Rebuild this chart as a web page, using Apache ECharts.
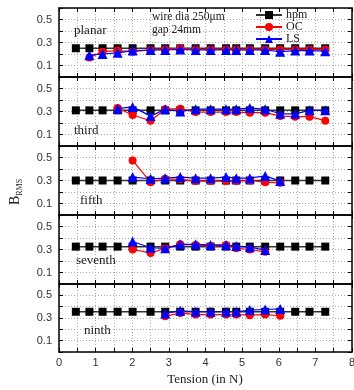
<!DOCTYPE html>
<html>
<head>
<meta charset="utf-8">
<script src="https://cdn.jsdelivr.net/npm/echarts@6/dist/echarts.min.js"></script>
<style>html,body{margin:0;padding:0;background:#fff;}#c{width:354px;height:390px;}</style>
</head>
<body>
<div id="c"></div>
<script>
// ---- data ----
const panelNames = ['planar', 'third', 'fifth', 'seventh', 'ninth'];
const seriesNames = ['hpm', 'OC', 'LS'];
const xTicks = [0, 1, 2, 3, 4, 5, 6, 7, 8];
const yTicks = [0.1, 0.3, 0.5];

const xHpm = [0.46, 0.83, 1.19, 1.6, 2.01, 2.5, 2.9, 3.31, 3.73, 4.14, 4.56, 4.84, 5.21, 5.63, 6.04, 6.45, 6.84, 7.27];

const hpmPlanar  = [0.25, 0.25, 0.25, 0.25, 0.25, 0.25, 0.25, 0.25, 0.25, 0.25, 0.25, 0.25, 0.25, 0.25, 0.25, 0.25, 0.25, 0.25];
const hpmThird   = [0.31, 0.31, 0.31, 0.31, 0.31, 0.31, 0.31, 0.31, 0.31, 0.31, 0.31, 0.31, 0.31, 0.31, 0.31, 0.31, 0.31, 0.31];
const hpmFifth   = [0.30, 0.30, 0.30, 0.30, 0.30, 0.30, 0.30, 0.30, 0.30, 0.30, 0.30, 0.30, 0.30, 0.30, 0.30, 0.30, 0.30, 0.30];
const hpmSeventh = [0.325, 0.325, 0.325, 0.325, 0.325, 0.325, 0.325, 0.325, 0.325, 0.325, 0.325, 0.325, 0.325, 0.325, 0.325, 0.325, 0.325, 0.325];
const hpmNinth   = [0.355, 0.355, 0.355, 0.355, 0.355, 0.355, 0.355, 0.355, 0.355, 0.355, 0.355, 0.355, 0.355, 0.355, 0.355, 0.355, 0.355, 0.355];

const xPlanar = [0.83, 1.19, 1.6, 2.01, 2.5, 2.9, 3.31, 3.73, 4.14, 4.56, 4.84, 5.21, 5.63, 6.04, 6.45, 6.84, 7.27];
const ocPlanar = [0.17, 0.22, 0.23, 0.22, 0.235, 0.24, 0.25, 0.24, 0.24, 0.24, 0.24, 0.24, 0.24, 0.24, 0.24, 0.24, 0.24];
const lsPlanar = [0.19, 0.20, 0.21, 0.23, 0.235, 0.235, 0.24, 0.235, 0.235, 0.235, 0.235, 0.235, 0.235, 0.22, 0.23, 0.23, 0.225];

const xThird = [1.6, 2.01, 2.5, 2.9, 3.31, 3.73, 4.14, 4.56, 4.84, 5.21, 5.63, 6.04, 6.45, 6.84, 7.27];
const ocThird = [0.33, 0.27, 0.22, 0.32, 0.325, 0.295, 0.295, 0.295, 0.295, 0.29, 0.29, 0.26, 0.255, 0.255, 0.22];
const lsThird = [0.325, 0.34, 0.26, 0.32, 0.30, 0.32, 0.32, 0.32, 0.32, 0.33, 0.32, 0.28, 0.28, 0.31, 0.31];

const xFifth = [2.01, 2.5, 2.9, 3.31, 3.73, 4.14, 4.56, 4.84, 5.21, 5.63, 6.04];
const ocFifth = [0.475, 0.285, 0.315, 0.31, 0.295, 0.295, 0.295, 0.295, 0.30, 0.285, 0.28];
const lsFifth = [0.33, 0.315, 0.32, 0.33, 0.32, 0.32, 0.33, 0.32, 0.32, 0.34, 0.295];

const xSeventh = [2.01, 2.5, 2.9, 3.31, 3.73, 4.14, 4.56, 4.84, 5.21, 5.63];
const ocSeventh = [0.30, 0.27, 0.31, 0.345, 0.34, 0.33, 0.34, 0.31, 0.30, 0.28];
const lsSeventh = [0.37, 0.315, 0.31, 0.345, 0.345, 0.34, 0.34, 0.33, 0.32, 0.295];

const xNinth = [2.9, 3.31, 3.73, 4.14, 4.56, 4.84, 5.21, 5.63, 6.04];
const ocNinth = [0.315, 0.345, 0.33, 0.33, 0.33, 0.33, 0.325, 0.33, 0.32];
const lsNinth = [0.34, 0.365, 0.355, 0.355, 0.355, 0.355, 0.37, 0.375, 0.38];

// ---- build ----
const panelHpm = [hpmPlanar, hpmThird, hpmFifth, hpmSeventh, hpmNinth];
const panelX = [xPlanar, xThird, xFifth, xSeventh, xNinth];
const panelOC = [ocPlanar, ocThird, ocFifth, ocSeventh, ocNinth];
const panelLS = [lsPlanar, lsThird, lsFifth, lsSeventh, lsNinth];

const pair = (xs, ys) => xs.map((x, i) => [x, ys[i]]);
const SANS = '"Liberation Sans", Arial, sans-serif';
const SERIF = '"Liberation Serif", "Times New Roman", serif';

const L = 59, R = 352, T0 = 8, PH = 69;
const grids = [], xAxes = [], yAxes = [], series = [];
const gridLine = { show: true, lineStyle: { type: [1, 2], color: '#aaa', width: 1 } };

for (let i = 0; i < 5; i++) {
  const last = i === 4;
  grids.push({ left: L, width: R - L, top: T0 + PH * i, height: last ? 68 : PH, containLabel: false, outerBoundsMode: 'none' });
  xAxes.push({
    type: 'value', gridIndex: i, min: 0, max: 8, interval: 0.5, position: 'bottom',
    axisLine: { show: true, onZero: false, lineStyle: { color: '#000', width: 1.5 } },
    axisTick: { show: true, inside: true, length: 4, lineStyle: { color: '#000', width: 1 } },
    axisLabel: {
      show: last, margin: 5, color: '#333', fontFamily: SANS, fontSize: 11,
      formatter: v => (xTicks.indexOf(v) >= 0 ? String(v) : '')
    },
    splitLine: gridLine
  });
  yAxes.push({
    type: 'value', gridIndex: i, min: 0, max: 0.6, interval: 0.1, position: 'left',
    axisLine: { show: true, onZero: false, lineStyle: { color: '#000', width: 1.5 } },
    axisTick: { show: true, inside: true, length: 4, lineStyle: { color: '#000', width: 1 } },
    axisLabel: {
      show: true, margin: 7, color: '#333', fontFamily: SANS, fontSize: 11,
      formatter: v => { const r = Math.round(v * 10) / 10; return yTicks.indexOf(r) >= 0 ? r.toFixed(1) : ''; }
    },
    splitLine: gridLine
  });
}
for (let i = 0; i < 5; i++) {
  xAxes.push({
    type: 'value', gridIndex: i, min: 0, max: 8, interval: 0.5, position: 'top',
    axisLine: { show: true, onZero: false, lineStyle: { color: '#000', width: 1.5 } },
    axisTick: { show: true, inside: true, length: 4, lineStyle: { color: '#000', width: 1 } },
    axisLabel: { show: false }, splitLine: { show: false }
  });
  yAxes.push({
    type: 'value', gridIndex: i, min: 0, max: 0.6, interval: 0.1, position: 'right',
    axisLine: { show: true, onZero: false, lineStyle: { color: '#000', width: 1.5 } },
    axisTick: { show: true, inside: true, length: 4, lineStyle: { color: '#000', width: 1 } },
    axisLabel: { show: false }, splitLine: { show: false }
  });
}

for (let i = 0; i < 5; i++) {
  series.push({
    name: seriesNames[0], type: 'line', xAxisIndex: i, yAxisIndex: i, z: 2,
    data: pair(xHpm, panelHpm[i]), symbol: 'rect', symbolSize: 8,
    lineStyle: { color: '#333', width: 1.5 }, itemStyle: { color: '#000' }, animation: false
  });
  series.push({
    name: seriesNames[1], type: 'line', xAxisIndex: i, yAxisIndex: i, z: 3,
    data: pair(panelX[i], panelOC[i]), symbol: 'circle', symbolSize: 8,
    lineStyle: { color: '#ff0000', width: 1.2 }, itemStyle: { color: '#ff0000' }, animation: false
  });
  series.push({
    name: seriesNames[2], type: 'line', xAxisIndex: i, yAxisIndex: i, z: 4,
    data: pair(panelX[i], panelLS[i]), symbol: 'triangle', symbolSize: 10,
    lineStyle: { color: '#0000ff', width: 1.2 }, itemStyle: { color: '#0000ff' }, animation: false
  });
}

const legends = seriesNames.map((n, k) => ({
  data: [n], orient: 'vertical', left: 255, top: 9 + 12 * k, padding: 0,
  itemWidth: 26, itemHeight: 10, itemGap: 0,
  textStyle: { fontFamily: SERIF, fontSize: 12, color: '#222', padding: [0, 0, 0, -1] }
}));

const txt = (s, x, y, size) => ({
  type: 'text', x: x, y: y, z: 10,
  style: { text: s, font: size + 'px ' + SERIF, fill: '#222', align: 'left', verticalAlign: 'middle', textAlign: 'left', textVerticalAlign: 'middle' }
});

const chart = echarts.init(document.getElementById('c'), null, { renderer: 'canvas' });
chart.setOption({
  animation: false,
  backgroundColor: '#fff',
  grid: grids, xAxis: xAxes, yAxis: yAxes, series: series,
  legend: legends,
  graphic: [
    txt(panelNames[0], 74, 31, 13),
    txt('wire dia 250μm', 152, 17, 11.5),
    txt('gap 24mm', 152, 30, 11.5),
    txt(panelNames[1], 74, 131, 13),
    txt(panelNames[2], 80, 201, 13),
    txt(panelNames[3], 76, 261, 13),
    txt(panelNames[4], 84, 331, 13),
    { type: 'text', x: 205, y: 380, z: 10,
      style: { text: 'Tension (in N)', font: '13px ' + SERIF, fill: '#222', align: 'center', verticalAlign: 'middle', textAlign: 'center', textVerticalAlign: 'middle' } },
    { type: 'text', x: 15, y: 192, rotation: Math.PI / 2, z: 10,
      style: {
        text: '{b|B}{s|RMS}', align: 'center', verticalAlign: 'middle', textAlign: 'center', textVerticalAlign: 'middle',
        rich: {
          b: { fontFamily: SERIF, fontSize: 14, fill: '#222', color: '#222', lineHeight: 18, verticalAlign: 'middle' },
          s: { fontFamily: SERIF, fontSize: 8, fill: '#222', color: '#222', lineHeight: 18, verticalAlign: 'bottom', padding: [6, 0, 0, 0] }
        }
      } }
  ]
});
</script>
</body>
</html>
